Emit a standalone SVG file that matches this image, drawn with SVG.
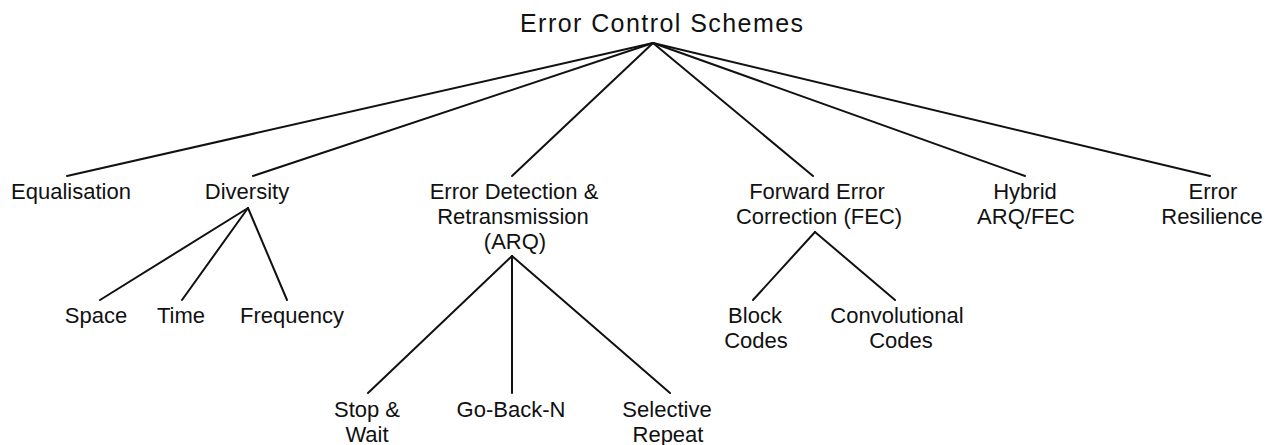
<svg xmlns="http://www.w3.org/2000/svg" width="1279" height="445" viewBox="0 0 1279 445">
<style>
text{font-family:"Liberation Sans",Arial,sans-serif;font-size:22px;fill:#111;text-anchor:middle}
.root{font-size:25px}
line{stroke:#111;stroke-width:2;stroke-linecap:round}
</style>
<rect width="1279" height="445" fill="#fff"/>
<g id="connectors">
<line x1="653" y1="43" x2="67" y2="176"/>
<line x1="653" y1="43" x2="253" y2="176"/>
<line x1="653" y1="43" x2="512" y2="176"/>
<line x1="653" y1="43" x2="813" y2="176"/>
<line x1="653" y1="43" x2="1025" y2="176"/>
<line x1="653" y1="43" x2="1210" y2="176"/>
<line x1="248" y1="208" x2="100" y2="300"/>
<line x1="248" y1="208" x2="182" y2="300"/>
<line x1="248" y1="208" x2="287" y2="300"/>
<line x1="512" y1="256" x2="368" y2="393"/>
<line x1="512" y1="256" x2="512" y2="393"/>
<line x1="512" y1="256" x2="670" y2="393"/>
<line x1="815" y1="232" x2="753" y2="300"/>
<line x1="815" y1="232" x2="895" y2="300"/>
</g>
<g id="root"><text class="root" x="661.5" y="32" textLength="283" lengthAdjust="spacing">Error Control Schemes</text></g>
<g id="equalisation"><text x="71" y="199">Equalisation</text></g>
<g id="diversity"><text x="247" y="199">Diversity</text></g>
<g id="arq"><text x="514" y="199">Error Detection &amp;</text><text x="513" y="224">Retransmission</text><text x="515" y="249">(ARQ)</text></g>
<g id="fec"><text x="817" y="199">Forward Error</text><text x="819" y="224">Correction (FEC)</text></g>
<g id="hybrid"><text x="1025" y="199">Hybrid</text><text x="1026" y="224">ARQ/FEC</text></g>
<g id="resilience"><text x="1213" y="199">Error</text><text x="1212" y="224">Resilience</text></g>
<g id="space"><text x="96" y="323">Space</text></g>
<g id="time"><text x="181" y="323">Time</text></g>
<g id="frequency"><text x="292" y="323">Frequency</text></g>
<g id="block"><text x="755" y="323">Block</text><text x="756" y="348">Codes</text></g>
<g id="convolutional"><text x="897" y="323">Convolutional</text><text x="901" y="348">Codes</text></g>
<g id="stopwait"><text x="367" y="417">Stop &amp;</text><text x="367" y="442">Wait</text></g>
<g id="gobackn"><text x="511" y="417">Go-Back-N</text></g>
<g id="selective"><text x="667" y="417">Selective</text><text x="668" y="442">Repeat</text></g>
</svg>
